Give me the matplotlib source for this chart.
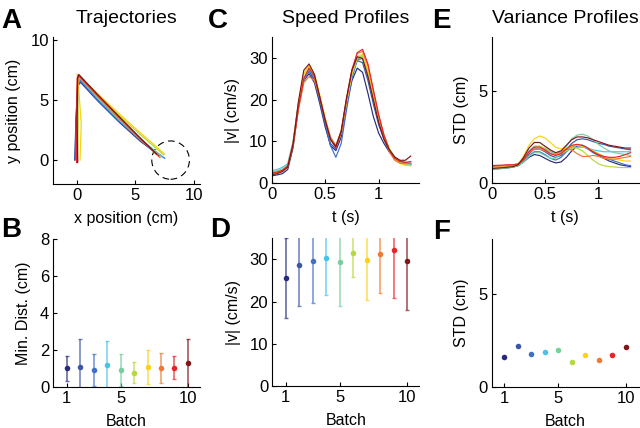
import matplotlib
matplotlib.use('Agg')
import matplotlib.pyplot as plt
from matplotlib.patches import Circle

plt.rcParams['font.family'] = ['Liberation Sans', 'DejaVu Sans']
plt.rcParams['font.size'] = 11

# ---- data ----
batches = [1, 2, 3, 4, 5, 6, 7, 8, 9, 10]
colors = ['#262b7e', '#3c56a6', '#3f6fc9', '#46c3e8', '#77cf9c',
          '#b6d83f', '#fcd116', '#f07a34', '#e6252a', '#7f1718']

# A: hand trajectories (cm), one list of vertices per batch
traj_x = [
    [-0.15, -0.05, 0.10, 0.35, 1.8, 3.6, 5.4, 7.1],
    [-0.10, -0.05, 0.10, 0.30, 1.8, 3.6, 5.4, 7.0],
    [-0.10, 0.00, 0.15, 0.35, 1.8, 3.6, 5.4, 7.5],
    [0.00, 0.05, 0.15, 0.30, 1.8, 3.6, 5.4, 7.3],
    [0.05, 0.05, 0.10, 0.25, 1.8, 3.6, 5.4, 7.2],
    [0.10, 0.15, 0.10, 0.20, 1.8, 3.6, 5.4, 7.4],
    [0.30, 0.40, 0.15, 0.05, 1.8, 3.6, 5.4, 7.5],
    [0.05, 0.05, 0.10, 0.20, 1.8, 3.6, 5.4, 7.1],
    [0.00, 0.00, 0.05, 0.15, 1.8, 3.6, 5.4, 7.0],
    [0.10, 0.05, 0.10, 0.20, 1.8, 3.6, 5.4, 6.8],
]
traj_y = [
    [0.00, 3.2, 6.20, 6.50, 4.95, 3.20, 1.60, 0.35],
    [0.10, 3.3, 6.40, 6.70, 5.05, 3.30, 1.65, 0.40],
    [0.05, 3.3, 6.30, 6.60, 5.00, 3.27, 1.70, 0.15],
    [0.00, 3.4, 6.50, 6.80, 5.15, 3.36, 1.75, 0.25],
    [-0.10, 3.4, 6.60, 6.90, 5.25, 3.47, 1.82, 0.30],
    [0.00, 3.5, 6.70, 7.00, 5.43, 3.76, 2.15, 0.45],
    [0.00, 3.0, 6.50, 7.20, 5.55, 3.90, 2.30, 0.50],
    [-0.15, 3.4, 6.70, 7.00, 5.30, 3.50, 1.75, 0.20],
    [-0.20, 3.4, 6.80, 7.10, 5.40, 3.62, 1.85, 0.35],
    [-0.20, 3.5, 6.85, 7.15, 5.47, 3.65, 1.85, 0.50],
]
target_center = (8.0, 0.0)
target_radius = 1.6

# C and E: profiles sampled every 0.05 s
t = [0.00, 0.05, 0.10, 0.15, 0.20, 0.25, 0.30, 0.35, 0.40, 0.45, 0.50, 0.55, 0.60, 0.65,
     0.70, 0.75, 0.80, 0.85, 0.90, 0.95, 1.00, 1.05, 1.10, 1.15, 1.20, 1.25, 1.30]
speed = [
    [1.8, 2.0, 2.3, 3.3, 8.5, 18.0, 24.5, 26.2, 24.0, 19.0, 13.5, 9.0, 7.8, 11.0, 18.5, 24.5, 27.5, 26.5, 21.5, 16.0, 12.0, 9.5, 7.5, 6.0, 5.2, 4.8, 4.6],
    [2.4, 2.7, 3.1, 4.1, 9.5, 19.0, 25.0, 26.8, 24.5, 19.5, 14.0, 9.5, 8.2, 12.0, 19.5, 26.0, 29.3, 28.8, 24.5, 19.0, 14.0, 10.5, 7.5, 5.8, 5.0, 4.7, 4.6],
    [2.6, 2.9, 3.3, 4.3, 9.5, 18.5, 24.5, 27.0, 25.0, 20.0, 14.5, 9.0, 6.2, 9.5, 17.5, 25.0, 29.5, 29.8, 25.5, 20.0, 15.0, 11.0, 8.0, 6.2, 5.3, 5.0, 4.8],
    [3.0, 3.3, 3.8, 4.7, 10.0, 19.0, 25.0, 27.3, 25.5, 20.5, 15.0, 10.5, 8.5, 12.0, 19.5, 26.0, 29.8, 30.0, 26.0, 20.5, 15.5, 11.0, 8.0, 6.2, 5.2, 4.6, 4.3],
    [2.6, 2.9, 3.4, 4.4, 9.5, 18.5, 25.0, 27.5, 25.5, 20.5, 15.0, 10.5, 8.7, 12.0, 19.5, 26.0, 30.0, 30.5, 26.5, 21.0, 16.0, 11.5, 8.3, 6.3, 5.2, 4.6, 4.4],
    [2.5, 2.8, 3.2, 4.2, 9.5, 19.0, 26.0, 28.0, 26.0, 21.0, 15.5, 11.0, 9.0, 12.5, 19.5, 26.0, 29.8, 30.3, 26.5, 21.0, 16.0, 11.5, 8.3, 6.2, 5.0, 4.4, 4.2],
    [2.3, 2.6, 3.0, 4.1, 9.5, 19.0, 26.2, 28.2, 26.0, 21.0, 15.5, 10.5, 8.7, 12.0, 19.5, 26.5, 30.3, 30.8, 27.0, 21.5, 16.0, 11.5, 8.0, 5.8, 4.7, 4.3, 4.2],
    [2.2, 2.5, 2.9, 4.0, 9.0, 17.5, 24.0, 25.5, 24.5, 20.5, 15.5, 11.0, 9.0, 12.5, 20.0, 27.0, 31.0, 31.5, 28.0, 22.0, 16.0, 11.0, 7.5, 5.5, 4.8, 4.7, 4.8],
    [2.4, 2.7, 3.1, 4.1, 9.0, 18.0, 25.0, 27.5, 25.5, 20.5, 15.0, 10.5, 8.5, 12.0, 20.0, 27.0, 31.2, 32.0, 28.5, 22.5, 16.5, 11.5, 8.0, 6.0, 5.2, 5.0, 5.2],
    [2.0, 2.3, 2.8, 3.9, 9.5, 19.5, 27.0, 28.5, 26.0, 20.5, 15.0, 10.5, 8.8, 12.5, 20.5, 27.0, 30.2, 29.8, 25.5, 20.0, 14.5, 10.5, 8.0, 6.3, 5.5, 5.5, 6.5],
]
std_prof = [
    [0.75, 0.78, 0.80, 0.83, 0.87, 0.95, 1.15, 1.40, 1.55, 1.50, 1.35, 1.20, 1.10, 1.15, 1.40, 1.75, 2.00, 2.05, 1.90, 1.70, 1.50, 1.35, 1.20, 1.10, 1.00, 0.95, 0.90],
    [0.80, 0.82, 0.85, 0.88, 0.90, 0.98, 1.25, 1.60, 1.85, 1.85, 1.70, 1.50, 1.40, 1.50, 1.80, 2.15, 2.35, 2.40, 2.35, 2.25, 2.15, 2.10, 2.00, 1.95, 1.90, 1.85, 1.80],
    [0.85, 0.87, 0.90, 0.92, 0.95, 1.00, 1.20, 1.50, 1.70, 1.70, 1.55, 1.35, 1.25, 1.40, 1.70, 1.95, 2.05, 2.00, 1.85, 1.65, 1.50, 1.40, 1.30, 1.20, 1.10, 1.00, 0.95],
    [0.90, 0.92, 0.94, 0.96, 0.98, 1.05, 1.35, 1.75, 2.00, 2.00, 1.85, 1.70, 1.60, 1.65, 1.80, 1.90, 1.95, 1.95, 1.90, 1.80, 1.75, 1.70, 1.70, 1.70, 1.70, 1.70, 1.70],
    [0.75, 0.78, 0.80, 0.83, 0.87, 0.95, 1.15, 1.45, 1.65, 1.65, 1.50, 1.35, 1.35, 1.60, 2.00, 2.40, 2.60, 2.65, 2.55, 2.35, 2.10, 1.90, 1.75, 1.65, 1.60, 1.55, 1.50],
    [0.80, 0.82, 0.85, 0.88, 0.92, 1.00, 1.30, 1.70, 1.95, 2.00, 1.90, 1.75, 1.60, 1.60, 1.75, 1.90, 1.90, 1.75, 1.50, 1.25, 1.05, 0.95, 0.90, 0.88, 0.85, 0.85, 0.85],
    [0.85, 0.87, 0.90, 0.93, 0.97, 1.05, 1.45, 2.05, 2.40, 2.55, 2.45, 2.20, 1.95, 1.85, 1.90, 2.00, 2.05, 2.00, 1.90, 1.75, 1.60, 1.45, 1.35, 1.30, 1.25, 1.20, 1.20],
    [0.90, 0.92, 0.94, 0.96, 0.98, 1.02, 1.30, 1.65, 1.85, 1.85, 1.75, 1.60, 1.55, 1.70, 1.85, 1.80, 1.60, 1.45, 1.45, 1.50, 1.45, 1.35, 1.30, 1.30, 1.35, 1.40, 1.45],
    [0.95, 0.97, 0.98, 1.00, 1.00, 1.05, 1.30, 1.70, 1.95, 1.95, 1.80, 1.60, 1.50, 1.60, 1.85, 2.05, 2.10, 2.05, 1.90, 1.70, 1.55, 1.45, 1.40, 1.40, 1.45, 1.55, 1.65],
    [0.80, 0.82, 0.84, 0.87, 0.90, 1.00, 1.40, 1.90, 2.20, 2.20, 2.00, 1.80, 1.65, 1.75, 2.05, 2.35, 2.50, 2.50, 2.45, 2.35, 2.25, 2.15, 2.05, 2.00, 1.95, 1.90, 1.90],
]

# B, D, F: per-batch summaries
min_dist = [0.99, 1.08, 0.90, 1.17, 0.90, 0.76, 1.08, 1.01, 1.03, 1.26]
min_dist_err = [0.69, 1.49, 0.85, 1.32, 0.87, 0.56, 0.91, 0.81, 0.63, 1.31]
peak_speed = [25.7, 28.8, 29.7, 30.4, 29.3, 31.5, 29.9, 31.4, 32.2, 29.6]
peak_speed_err = [9.5, 9.9, 9.9, 8.7, 10.3, 5.7, 9.6, 9.3, 11.3, 11.6]
end_std = [1.58, 2.21, 1.76, 1.89, 1.98, 1.31, 1.71, 1.44, 1.71, 2.16]


def style(ax, xlim, ylim, xticks, yticks, xlabel, ylabel):
    ax.set_xlim(xlim)
    ax.set_ylim(ylim)
    ax.set_xticks(xticks)
    ax.set_yticks(yticks)
    ax.set_xticklabels([f'{v:g}' for v in xticks])
    ax.set_yticklabels([f'{v:g}' for v in yticks])
    ax.set_xlabel(xlabel, fontsize=11.5, labelpad=5.5)
    ax.set_ylabel(ylabel, fontsize=11.5, labelpad=6.5)
    for s in ['top', 'right']:
        ax.spines[s].set_visible(False)
    for s in ['left', 'bottom']:
        ax.spines[s].set_linewidth(0.8)
    ax.tick_params(direction='in', length=3, width=0.8, labelsize=12, pad=3)


fig = plt.figure(figsize=(6.4, 4.28), dpi=100)

axA = fig.add_axes([0.0828, 0.570, 0.2297, 0.344])
for i in range(len(batches)):
    axA.plot(traj_x[i], traj_y[i], color=colors[i], lw=0.9, solid_joinstyle='round')
axA.add_patch(Circle(target_center, target_radius, fill=False, color='k',
                     lw=0.8, ls=(0, (6, 4))))
style(axA, (-2, 10.5), (-2, 10.3), [0, 5, 10], [0, 5, 10], 'x position (cm)', 'y position (cm)')
axA.set_title('Trajectories', fontsize=14, pad=10)

axC = fig.add_axes([0.4245, 0.5717, 0.2306, 0.3425])
for i in range(len(batches)):
    axC.plot(t, speed[i], color=colors[i], lw=0.85)
style(axC, (0, 1.38), (0, 35), [0, 0.5, 1], [0, 10, 20, 30], 't (s)', '|v| (cm/s)')
axC.set_title('Speed Profiles', fontsize=14, pad=10)

axE = fig.add_axes([0.768, 0.5717, 0.2306, 0.3425])
for i in range(len(batches)):
    axE.plot(t, std_prof[i], color=colors[i], lw=0.85)
style(axE, (0, 1.38), (0, 7.9), [0, 0.5, 1], [0, 5], 't (s)', 'STD (cm)')
axE.set_title('Variance Profiles', fontsize=14, pad=10)

axB = fig.add_axes([0.0833, 0.0965, 0.2292, 0.345])
for i, b in enumerate(batches):
    axB.errorbar(b, min_dist[i], yerr=min_dist_err[i], fmt='none', ecolor=colors[i],
                 elinewidth=1.2, capsize=1.5, alpha=0.7)
    axB.plot(b, min_dist[i], 'o', color=colors[i], ms=4, mec='none')
style(axB, (0, 10.9), (0, 8), [1, 5, 10], [0, 2, 4, 6, 8], 'Batch', 'Min. Dist. (cm)')

axD = fig.add_axes([0.4255, 0.098, 0.2297, 0.345])
for i, b in enumerate(batches):
    axD.errorbar(b, peak_speed[i], yerr=peak_speed_err[i], fmt='none', ecolor=colors[i],
                 elinewidth=1.2, capsize=1.5, alpha=0.7)
    axD.plot(b, peak_speed[i], 'o', color=colors[i], ms=4, mec='none')
style(axD, (0, 10.9), (0, 35), [1, 5, 10], [0, 10, 20, 30], 'Batch', '|v| (cm/s)')

axF = fig.add_axes([0.768, 0.0965, 0.231, 0.344])
for i, b in enumerate(batches):
    axF.plot(b, end_std[i], 'o', color=colors[i], ms=4, mec='none')
style(axF, (0.05, 11), (0, 7.95), [1, 5, 10], [0, 5], 'Batch', 'STD (cm)')

letters = [('A', 0.002, 0.981), ('C', 0.325, 0.981), ('E', 0.675, 0.981),
           ('B', 0.002, 0.493), ('D', 0.328, 0.493), ('F', 0.677, 0.488)]
for lab, x, y in letters:
    fig.text(x, y, lab, fontsize=20, fontweight='bold', ha='left', va='top')

fig.savefig('out.png', dpi=100)
